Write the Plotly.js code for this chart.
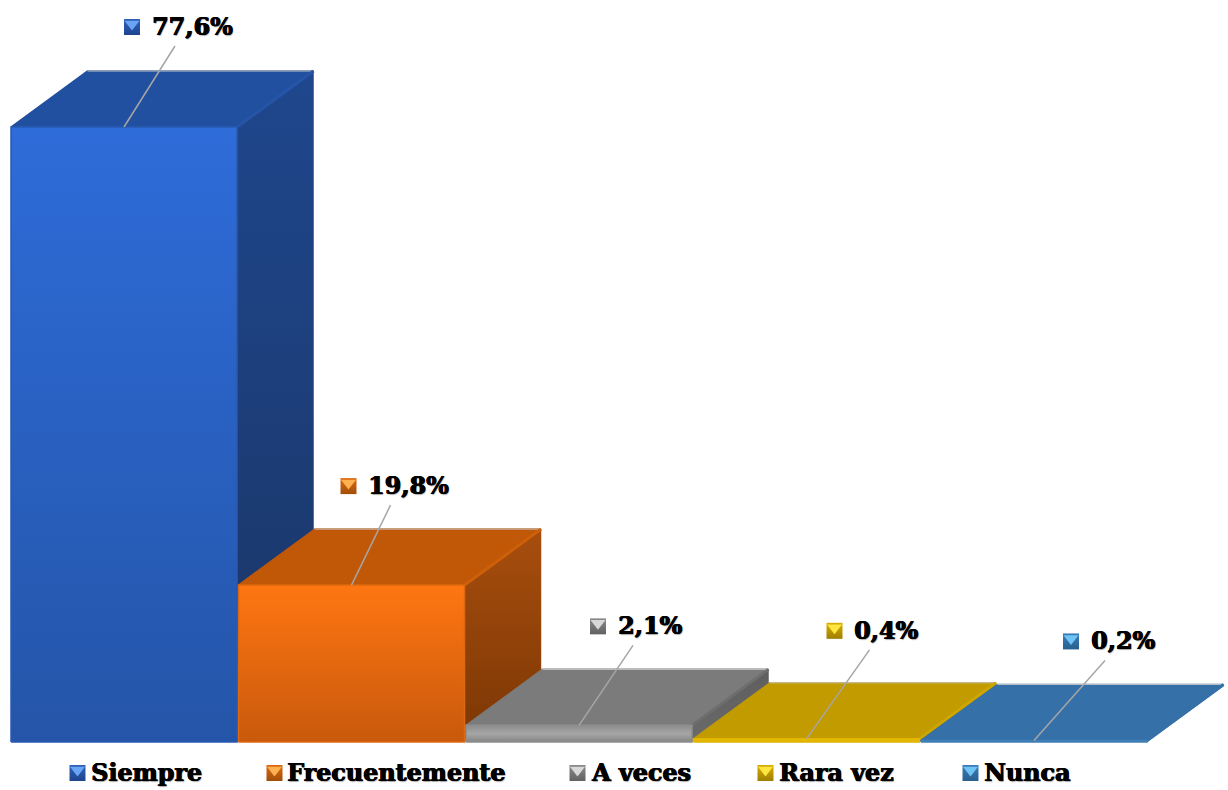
<!DOCTYPE html>
<html><head><meta charset="utf-8">
<script src="https://cdn.plot.ly/plotly-3.0.1.min.js"></script>
<style>html,body{margin:0;padding:0;background:#fff;overflow:hidden}</style>
</head><body><div id="chart" style="width:1228px;height:790px"></div>
<script>
// ---- data ----
const categories = ['Siempre','Frecuentemente','A veces','Rara vez','Nunca'];
const values = [77.6,19.8,2.1,0.4,0.2];
const valueLabels = ['77,6%','19,8%','2,1%','0,4%','0,2%'];

// ---- styles ----
const frontScale = [
  [[0,'#2455A8'],[1,'#2E6CD9']],
  [[0,'#C8590C'],[1,'#FF7612']],
  [[0,'#858585'],[0.5,'#A6A6A6'],[1,'#8C8C8C']],
  [[0,'#D9AE00'],[1,'#F0C000']],
  [[0,'#3A7ABA'],[1,'#3F7FB8']]
];
const frontEdge = ['#2859B4','#DD680F','#8E8E8E','#E0B400','#3F7FB8'];
const sideScale = [
  [[0,'#1A3566'],[1,'#1F478D']],
  [[0,'#7C3704'],[1,'#A84E0E']],
  [[0,'#6A6A6A'],[1,'#5E5E5E']],
  [[0,'#A08000'],[1,'#A08000']],
  [[0,'#2D5F8E'],[1,'#2D5F8E']]
];
const topColor = ['#20509F','#C05808','#7B7B7B','#C19B00','#3571A8'];
const topBevel = ['#2655A8','#CF600A','#6E6E6E','#CFA600','#3571A8'];
const keyLight = ['#6AA5F5','#FFB050','#D8D8D8','#FFE640','#70C4F5'];
const keyBase = ['#2E62B8','#DE6A12','#8A8A8A','#D9AE00','#3A7DB8'];
const keyDark = ['#1F4490','#A04E0A','#626262','#9E7F00','#28608F'];

// ---- geometry (pixel scale of the 1228x790 figure) ----
const W = 1228, H = 790;
const stepPx = 227.5, center0Px = 124, zeroPx = 742, unitPx = 7.925;
const barW = 226/stepPx, depthX = 76.5/stepPx, depthY = 56/unitPx;
const xRange = [-center0Px/stepPx, (W-center0Px)/stepPx];
const yRange = [-(H-zeroPx)/unitPx, zeroPx/unitPx];
const dxPx = p => p/stepPx, dyPx = p => p/unitPx;

const labelDx = [28,17,39,48,57];
const labelDy = [100,99,99,108,99];
const leadDx = [23,22,15,15,14];
const textPad = 2.5;
const legendLeft = [70,267,570,758,963];
const legendText = [91,287,591,779,984];
const legendYPx = 773;

const traces = [];
const base = {mode:'lines',hoverinfo:'skip',showlegend:false};

categories.forEach((c,i)=>{
  const v = values[i], l = i-barW/2, r = i+barW/2;
  traces.push({...base,name:c+' lateral',
    x:[r,r+depthX,r+depthX,r,r],y:[v,v+depthY,depthY,0,v],
    fill:'toself',fillgradient:{type:'vertical',colorscale:sideScale[i]},
    line:{color:sideScale[i][1][1],width:0.5}});
  traces.push({...base,name:c+' superior',
    x:[l,l+depthX,r+depthX,r,l],y:[v,v+depthY,v+depthY,v,v],
    fill:'toself',fillcolor:topColor[i],line:{color:topColor[i],width:1.5}});
  traces.push({...base,name:c+' borde',
    x:[l+depthX,r+depthX],y:[v+depthY,v+depthY],line:{color:'#C4C4C4',width:1}});
  traces.push({...base,name:c+' bisel',
    x:[r,r+depthX],y:[v,v+depthY],line:{color:topBevel[i],width:3}});
  traces.push({...base,name:c,
    x:[l,r,r,l,l],y:[0,0,v,v,0],
    fill:'toself',fillgradient:{type:'vertical',colorscale:frontScale[i]},
    line:{color:frontEdge[i],width:1.5}});
});

// leader lines
categories.forEach((c,i)=>{
  const v = values[i];
  traces.push({...base,name:c+' guía',
    x:[i, i+dxPx(labelDx[i]+leadDx[i])],
    y:[v, v+dyPx(labelDy[i]-19)],
    line:{color:'#A6A6A6',width:1.5}});
});

// value-label keys and legend keys
const keyX = [], keyY = [], keyCols = [], keyLightCols = [], keyDarkCols = [];
categories.forEach((c,i)=>{
  keyX.push(i+dxPx(labelDx[i]-20)); keyY.push(values[i]+dyPx(labelDy[i]));
  keyCols.push(keyBase[i]); keyLightCols.push(keyLight[i]); keyDarkCols.push(keyDark[i]);
  keyX.push((legendLeft[i]+7.5-center0Px)/stepPx); keyY.push((zeroPx-legendYPx)/unitPx);
  keyCols.push(keyBase[i]); keyLightCols.push(keyLight[i]); keyDarkCols.push(keyDark[i]);
});
traces.push({mode:'markers',hoverinfo:'skip',showlegend:false,name:'clave',x:keyX,y:keyY,
  marker:{symbol:'square',size:16,color:keyCols,line:{width:0},
    gradient:{type:'vertical',color:keyDarkCols}}});
traces.push({mode:'markers',hoverinfo:'skip',showlegend:false,name:'clave luz',x:keyX,y:keyY.map(y=>y+dyPx(3)),
  marker:{symbol:'triangle-down',size:13,color:keyLightCols,line:{width:0}}});

const fontLabel = {family:'"DejaVu Serif", serif',size:23.8,color:'#000',weight:700,shadow:'0.8px 0 0 #000, -0.3px 0 0 #000, 1px 1px 1px rgba(0,0,0,.35)'};
const annotations = [];
categories.forEach((c,i)=>{
  annotations.push({x:i,y:values[i],xref:'x',yref:'y',xshift:labelDx[i]-textPad,yshift:labelDy[i],
    xanchor:'left',yanchor:'middle',showarrow:false,text:valueLabels[i],font:fontLabel});
  annotations.push({x:(legendText[i]-textPad)/W,y:1-legendYPx/H,xref:'paper',yref:'paper',
    xanchor:'left',yanchor:'middle',showarrow:false,text:c,font:fontLabel});
});

const layout = {
  width:W,height:H,margin:{l:0,r:0,t:0,b:0,pad:0},
  paper_bgcolor:'#fff',plot_bgcolor:'#fff',showlegend:false,
  xaxis:{visible:false,range:xRange,fixedrange:true},
  yaxis:{visible:false,range:yRange,fixedrange:true},
  annotations
};
Plotly.newPlot('chart',traces,layout,{displayModeBar:false,staticPlot:true});
</script></body></html>
